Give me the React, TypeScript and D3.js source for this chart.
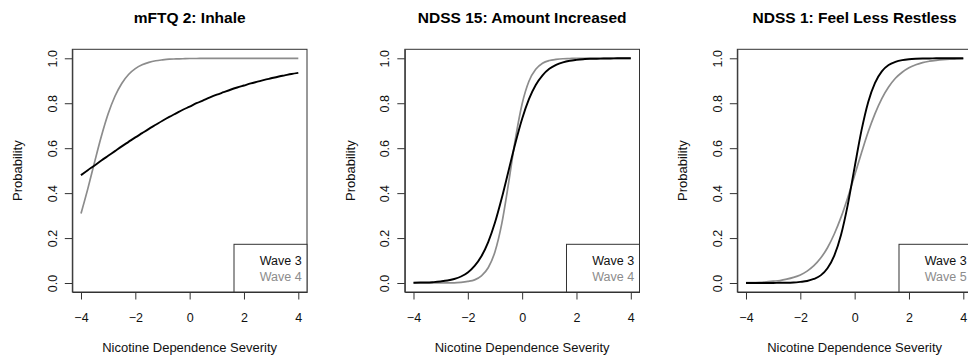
import React, { useEffect, useRef } from "react";
import * as d3 from "d3";

const xGrid = [-4, -3.75, -3.5, -3.25, -3, -2.75, -2.5, -2.25, -2, -1.75, -1.5, -1.25, -1, -0.75, -0.5, -0.25, 0,
  0.25, 0.5, 0.75, 1, 1.25, 1.5, 1.75, 2, 2.25, 2.5, 2.75, 3, 3.25, 3.5, 3.75, 4];

const titles = ["mFTQ 2: Inhale", "NDSS 15: Amount Increased", "NDSS 1: Feel Less Restless"];
const legendLabels = [["Wave 3", "Wave 4"], ["Wave 3", "Wave 4"], ["Wave 3", "Wave 5"]];

const inhaleWave3 = [0.480, 0.502, 0.523, 0.545, 0.566, 0.587, 0.608, 0.628, 0.648, 0.667, 0.686, 0.704, 0.722,
  0.739, 0.755, 0.771, 0.785, 0.800, 0.813, 0.826, 0.838, 0.849, 0.860, 0.870, 0.879, 0.888, 0.896, 0.904, 0.911,
  0.918, 0.924, 0.930, 0.935];
const inhaleWave4 = [0.309, 0.419, 0.538, 0.653, 0.753, 0.831, 0.888, 0.928, 0.954, 0.971, 0.982, 0.989, 0.993,
  0.996, 0.997, 0.998, 0.999, 0.999, 1, 1, 1, 1, 1, 1, 1, 1, 1, 1, 1, 1, 1, 1, 1];

const amountWave3 = [0.001, 0.002, 0.002, 0.004, 0.007, 0.011, 0.018, 0.029, 0.047, 0.076, 0.119, 0.182, 0.269,
  0.378, 0.500, 0.622, 0.731, 0.818, 0.881, 0.924, 0.953, 0.971, 0.982, 0.989, 0.993, 0.996, 0.998, 0.998, 0.999,
  0.999, 1, 1, 1];
const amountWave4 = [0, 0, 0, 0, 0, 0.001, 0.001, 0.003, 0.007, 0.014, 0.032, 0.068, 0.139, 0.264, 0.444, 0.640,
  0.798, 0.898, 0.951, 0.978, 0.990, 0.995, 0.998, 0.999, 1, 1, 1, 1, 1, 1, 1, 1, 1];

const restlessWave3 = [0, 0, 0, 0, 0, 0.001, 0.001, 0.002, 0.005, 0.009, 0.018, 0.034, 0.066, 0.122, 0.215, 0.350,
  0.516, 0.678, 0.806, 0.891, 0.942, 0.970, 0.984, 0.992, 0.996, 0.998, 0.999, 0.999, 1, 1, 1, 1, 1];
const restlessWave5 = [0.002, 0.002, 0.003, 0.005, 0.008, 0.011, 0.017, 0.025, 0.036, 0.053, 0.077, 0.111, 0.157,
  0.218, 0.293, 0.382, 0.480, 0.579, 0.673, 0.754, 0.821, 0.872, 0.911, 0.938, 0.958, 0.971, 0.981, 0.987, 0.991,
  0.994, 0.996, 0.997, 0.998];

const panelSeries = [
  [inhaleWave3, inhaleWave4],
  [amountWave3, amountWave4],
  [restlessWave3, restlessWave5]
];

const xTicks = [-4, -2, 0, 2, 4];
const yTicks = [0, 0.2, 0.4, 0.6, 0.8, 1.0];

const seriesColors = ["#000000", "#8c8c8c"];
const FONT = "'Liberation Sans', Arial, Helvetica, sans-serif";

export default function App() {
  const ref = useRef<SVGSVGElement>(null);

  useEffect(() => {
    const svg = d3.select(ref.current);
    svg.selectAll("*").remove();

    const width = 968;
    const height = 362;
    const boxTop = 49.3;
    const boxBottom = 292;
    const boxWidth = 234.7;
    const pitch = 332.5;

    svg.attr("width", width).attr("height", height);

    titles.forEach((title, i) => {
      const left = 72.3 + pitch * i;
      const g = svg.append("g").attr("transform", `translate(${left},0)`);

      // R-style 4% padding on both axes
      const x = d3.scaleLinear().domain([-4.32, 4.32]).range([0, boxWidth]);
      const y = d3.scaleLinear().domain([-0.04, 1.04]).range([boxBottom, boxTop]);

      g.append("text")
        .attr("x", boxWidth / 2)
        .attr("y", 23.3)
        .attr("text-anchor", "middle")
        .style("font-family", FONT)
        .style("font-weight", "bold")
        .style("font-size", "15.5px")
        .text(title);

      const line = d3.line<number>()
        .x((d, k) => x(xGrid[k]))
        .y(d => y(d))
        .curve(d3.curveMonotoneX);

      // draw wave 4/5 first then wave 3 on top
      [1, 0].forEach(s => {
        g.append("path")
          .attr("d", line(panelSeries[i][s]))
          .attr("fill", "none")
          .attr("stroke", seriesColors[s])
          .attr("stroke-width", s === 0 ? 1.9 : 1.7);
      });

      // x axis
      const xAxis = g.append("g")
        .attr("transform", `translate(0,${boxBottom})`)
        .call(d3.axisBottom(x).tickValues(xTicks).tickSizeInner(7.5).tickSizeOuter(0).tickPadding(13.3)
          .tickFormat(d => (d < 0 ? "\u2212" + Math.abs(d) : String(d))));
      xAxis.select(".domain").attr("stroke", "#333");
      xAxis.selectAll(".tick line").attr("stroke", "#333");
      xAxis.selectAll(".tick text")
        .style("font-family", FONT)
        .style("font-size", "12.5px")
        .attr("fill", "#111");

      // y axis with rotated labels
      const yAxis = g.append("g")
        .call(d3.axisLeft(y).tickValues(yTicks).tickSizeInner(7.5).tickSizeOuter(0)
          .tickFormat(d3.format(".1f")));
      yAxis.select(".domain").attr("stroke", "#333");
      yAxis.selectAll(".tick line").attr("stroke", "#333");
      yAxis.selectAll(".tick text")
        .attr("transform", "rotate(-90)")
        .attr("x", 0)
        .attr("y", -15.6)
        .attr("dy", null)
        .attr("text-anchor", "middle")
        .style("font-family", FONT)
        .style("font-size", "12.5px")
        .attr("fill", "#111");

      // plot box
      g.append("rect")
        .attr("x", 0)
        .attr("y", boxTop)
        .attr("width", boxWidth)
        .attr("height", boxBottom - boxTop)
        .attr("fill", "none")
        .attr("stroke", "#333")
        .attr("stroke-width", 1);

      g.append("text")
        .attr("x", boxWidth / 2)
        .attr("y", 352)
        .attr("text-anchor", "middle")
        .style("font-family", FONT)
        .style("font-size", "13px")
        .attr("fill", "#111")
        .text("Nicotine Dependence Severity");

      g.append("text")
        .attr("transform", `translate(-50,${(boxTop + boxBottom) / 2}) rotate(-90)`)
        .attr("text-anchor", "middle")
        .style("font-family", FONT)
        .style("font-size", "13px")
        .attr("fill", "#111")
        .text("Probability");

      // legend, bottom right
      const legW = 73;
      const legH = 47.7;
      g.append("rect")
        .attr("x", boxWidth - legW)
        .attr("y", boxBottom - legH)
        .attr("width", legW)
        .attr("height", legH)
        .attr("fill", "white")
        .attr("stroke", "#333");
      legendLabels[i].forEach((lab, k) => {
        g.append("text")
          .attr("x", boxWidth - 5.3)
          .attr("y", 265 + k * 15.7)
          .attr("text-anchor", "end")
          .style("font-family", FONT)
          .style("font-size", "12.5px")
          .attr("fill", k === 0 ? "#111" : seriesColors[1])
          .text(lab);
      });
    });
  }, []);

  return (
    <div>
      <svg ref={ref} style={{ position: "absolute", left: 0, top: 0, background: "white" }}></svg>
    </div>
  );
}
